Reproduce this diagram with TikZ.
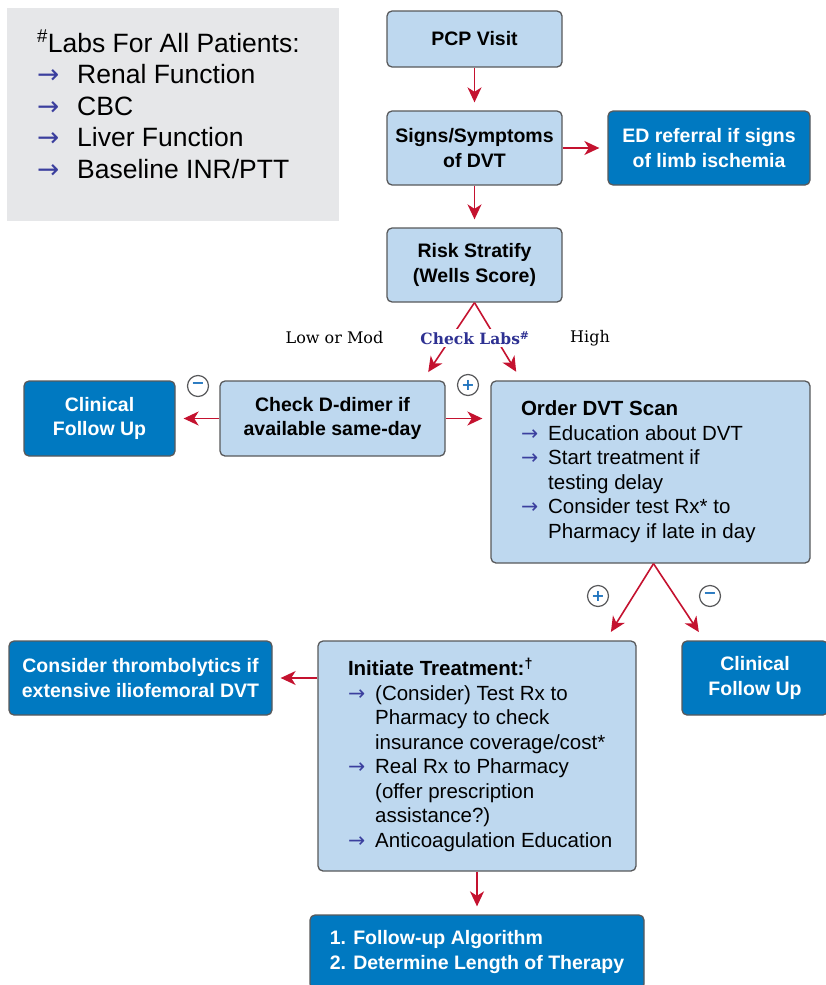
\documentclass[tikz,border=0pt]{standalone}
\usepackage{fontspec}
\setmainfont{Liberation Sans}
\newfontfamily\slabfont{DejaVu Serif}
\newfontfamily\arrowfont{DejaVu Sans}
\usetikzlibrary{positioning,arrows.meta}

\definecolor{boxblue}{HTML}{BED8EF}
\definecolor{darkblue}{HTML}{0079C1}
\definecolor{edgegray}{HTML}{58595B}
\definecolor{flowred}{HTML}{C4122F}
\definecolor{listblue}{HTML}{3B3F9E}
\definecolor{labsblue}{HTML}{2E3192}
\definecolor{labsgray}{HTML}{E6E7E9}
\definecolor{signblue}{HTML}{1E73BE}

\newcommand{\arr}{{\arrowfont\color{listblue}→}}

\begin{document}
\begin{tikzpicture}[x=1pt,y=-1pt,on grid,
  >={Stealth[length=15pt,width=14pt,inset=4.5pt]},
  box/.style={rectangle,rounded corners=5pt,draw=edgegray,line width=1.3pt,
    fill=boxblue,inner sep=0pt,align=center,
    font=\bfseries\fontsize{19.5}{24.5}\selectfont},
  darkbox/.style={box,fill=darkblue,text=white},
  listbox/.style={box,align=left,font=\fontsize{20.5}{24.5}\selectfont},
  sign/.style={circle,draw=edgegray,line width=1.2pt,fill=white,
    minimum size=21pt,inner sep=0pt,text=signblue,
    font=\arrowfont\bfseries\fontsize{16}{16}\selectfont},
  flow/.style={->,draw=flowred,line width=1.6pt,shorten >=8pt},
  risklabel/.style={font=\slabfont\fontsize{16}{18}\selectfont}]

\path[use as bounding box] (0,0) rectangle (826,985);
\clip (0,0) rectangle (826,985);

\node[fill=labsgray,minimum width=332pt,minimum height=213pt,inner sep=0pt,
  text depth=21pt,font=\fontsize{26.5}{31.5}\selectfont] (labs) at (173,114.5)
  {\makebox[272pt][l]{\begin{tabular}[b]{@{}l@{\hspace{18pt}}l@{}}
   \multicolumn{2}{@{}l@{}}{\textsuperscript{\#}Labs For All Patients:}\\
   \arr & Renal Function\\
   \arr & CBC\\
   \arr & Liver Function\\
   \arr & Baseline INR/PTT
   \end{tabular}}};

\node[box,minimum width=175pt,minimum height=56pt] (pcp) at (474.5,39) {PCP Visit};
\node[box,minimum width=175pt,minimum height=74pt] (signs) [below=109pt of pcp] {Signs/Symptoms\\of DVT};
\node[darkbox,minimum width=202pt,minimum height=74pt] (ed) [right=234.5pt of signs] {ED referral if signs\\of limb ischemia};
\node[box,minimum width=175pt,minimum height=74pt] (risk) [below=117pt of signs] {Risk Stratify\\(Wells Score)};

\node[risklabel] (lowmod) at (334.5,338) {Low or Mod};
\node[risklabel] (high) at (590,338) {High};

\node[box,minimum width=225pt,minimum height=75pt] (ddimer) [below left=153.5pt and 142pt of risk] {Check D-dimer if\\available same-day};
\node[darkbox,minimum width=151pt,minimum height=75pt] (cfu_l) [left=233pt of ddimer] {Clinical\\Follow Up};
\node[listbox,minimum width=319pt,minimum height=182pt] (scan) [below right=207pt and 176pt of risk]
  {\makebox[259pt][l]{\begin{tabular}{@{}l@{\hspace{10pt}}l@{}}
   \multicolumn{2}{@{}l@{}}{\bfseries Order DVT Scan}\\
   \arr & Education about DVT\\
   \arr & Start treatment if\\
        & testing delay\\
   \arr & Consider test Rx* to\\
        & Pharmacy if late in day
   \end{tabular}}};

\node[listbox,minimum width=318pt,minimum height=230pt] (init) [below left=284pt and 173.5pt of scan]
  {\makebox[258pt][l]{\begin{tabular}{@{}l@{\hspace{10pt}}l@{}}
   \multicolumn{2}{@{}l@{}}{\bfseries Initiate Treatment:\textsuperscript{\textdagger}}\\
   \arr & (Consider) Test Rx to\\
        & Pharmacy to check\\
        & insurance coverage/cost*\\
   \arr & Real Rx to Pharmacy\\
        & (offer prescription\\
        & assistance?)\\
   \arr & Anticoagulation Education
   \end{tabular}}};
\node[darkbox,minimum width=263pt,minimum height=74pt] (throm) at (140.5,678) {Consider thrombolytics if\\extensive iliofemoral DVT};
\node[darkbox,minimum width=146pt,minimum height=74pt] (cfu_r) at (755,678) {Clinical\\Follow Up};
\node[darkbox,align=left,minimum width=334pt,minimum height=74pt] (final) [below=196pt of init] {1. Follow-up Algorithm\\2. Determine Length of Therapy};

\node[sign] (minus_l) at (198,386) {−};
\node[sign] (plus_l) at (468,385) {+};
\node[sign] (plus_r) at (598,596) {+};
\node[sign] (minus_r) at (710,596) {−};

\path[every edge/.style={flow}]
(pcp) edge (signs)
(signs) edge (ed)
(signs) edge (risk)
(risk.south) edge [shorten >=10pt] ([xshift=-23pt]ddimer.north east)
(risk.south) edge [shorten >=10pt] ([xshift=31pt]scan.north west)
(ddimer) edge (cfu_l)
(ddimer.east) edge (ddimer.east -| scan.west)
([xshift=3pt]scan.south) edge [shorten >=10pt] ([xshift=-31pt]init.north east)
([xshift=3pt]scan.south) edge [shorten >=10pt] ([xshift=23pt]cfu_r.north west)
(throm.east -| init.west) edge (throm.east)
(init) edge (final)
; %end path

\node[risklabel,fill=white,inner sep=2pt,text=labsblue,font=\slabfont\bfseries\fontsize{15.5}{18}\selectfont] (labcheck) at (475,338) {Check Labs\textsuperscript{\#}};
\end{tikzpicture}
\end{document}
